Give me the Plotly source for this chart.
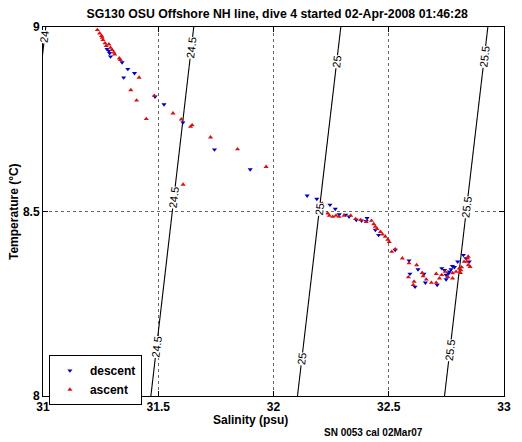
import plotly.graph_objects as go

# ---- data ----
desc_S = [31.278, 31.286, 31.289, 31.293, 31.343, 31.368, 31.397, 31.350, 31.486, 31.525,
          31.607, 31.744, 31.899, 32.146, 32.188, 32.221, 32.245, 32.268, 32.285, 32.313,
          32.328, 32.359, 32.382, 32.402, 32.406, 32.442, 32.456, 32.528, 32.588, 32.592,
          32.614, 32.627, 32.653, 32.659, 32.710, 32.730, 32.742, 32.749, 32.749, 32.763,
          32.770, 32.785, 32.799, 32.824, 32.835, 32.849, 32.759, 32.776]
desc_T = [8.940, 8.935, 8.929, 8.920, 8.904, 8.886, 8.875, 8.863, 8.811, 8.790,
          8.741, 8.668, 8.614, 8.543, 8.534, 8.516, 8.518, 8.507, 8.492, 8.491,
          8.486, 8.477, 8.475, 8.474, 8.482, 8.450, 8.436, 8.396, 8.367, 8.331,
          8.296, 8.343, 8.331, 8.307, 8.301, 8.346, 8.341, 8.328, 8.316, 8.337,
          8.343, 8.349, 8.364, 8.382, 8.373, 8.364, 8.332, 8.352]

asc_S = [31.236, 31.246, 31.254, 31.257, 31.260, 31.269, 31.274, 31.286, 31.293, 31.300,
         31.307, 31.311, 31.331, 31.336, 31.417, 31.381, 31.406, 31.483, 31.448, 31.564,
         31.600, 31.640, 31.647, 31.727, 31.844, 31.968, 31.608, 32.211, 32.235, 32.242,
         32.257, 32.271, 32.285, 32.306, 32.335, 32.356, 32.378, 32.402, 32.425, 32.435,
         32.442, 32.449, 32.464, 32.473, 32.485, 32.496, 32.502, 32.513, 32.528, 32.559,
         32.588, 32.621, 32.610, 32.585, 32.645, 32.649, 32.663, 32.685, 32.706, 32.706,
         32.720, 32.730, 32.745, 32.756, 32.777, 32.777, 32.792, 32.806, 32.811, 32.816,
         32.827, 32.839, 32.842, 32.845, 32.853, 32.845, 32.813, 32.606]
asc_T = [8.992, 8.983, 8.976, 8.971, 8.965, 8.956, 8.949, 8.953, 8.944, 8.938,
         8.931, 8.926, 8.915, 8.911, 8.863, 8.829, 8.801, 8.814, 8.751, 8.766,
         8.750, 8.730, 8.734, 8.701, 8.669, 8.621, 8.573, 8.522, 8.495, 8.489,
         8.486, 8.489, 8.486, 8.489, 8.489, 8.480, 8.477, 8.472, 8.475, 8.466,
         8.459, 8.453, 8.445, 8.438, 8.432, 8.424, 8.418, 8.391, 8.398, 8.373,
         8.360, 8.355, 8.310, 8.322, 8.334, 8.325, 8.316, 8.307, 8.307, 8.331,
         8.319, 8.328, 8.337, 8.323, 8.333, 8.319, 8.337, 8.346, 8.334, 8.349,
         8.364, 8.364, 8.373, 8.355, 8.350, 8.378, 8.341, 8.301]

# isopycnal (sigma-t) contour lines: salinity where each crosses T=8 and T=9
sigma_levels = ["24", "24.5", "25", "25.5"]
sigma_S_at_T8 = [30.825, 31.468, 32.104, 32.742]
sigma_S_at_T9 = [31.012, 31.654, 32.292, 32.930]
sigma_label_T = [[8.972], [8.943, 8.539, 8.133], [8.905, 8.507, 8.100], [8.919, 8.512, 8.125]]

x_ticks = [31, 31.5, 32, 32.5, 33]
x_tick_text = ["31", "31.5", "32", "32.5", "33"]
y_ticks = [8, 8.5, 9]
y_tick_text = ["8", "8.5", "9"]

FONT = "Liberation Sans, Arial, Helvetica, sans-serif"

fig = go.Figure()

annotations = []
for lev, s8, s9, labT in zip(sigma_levels, sigma_S_at_T8, sigma_S_at_T9, sigma_label_T):
    fig.add_trace(go.Scatter(x=[s8, s9], y=[8, 9], mode="lines",
                             line=dict(color="black", width=1.1),
                             showlegend=False, hoverinfo="skip"))
    for t in labT:
        s = s8 + (t - 8) * (s9 - s8)
        annotations.append(dict(x=s, y=t, xref="x", yref="y", text=lev, showarrow=False,
                                textangle=-83, bgcolor="white", borderpad=0,
                                font=dict(family=FONT, size=11, color="black")))

fig.add_trace(go.Scatter(x=desc_S, y=desc_T, mode="markers", name="descent",
                         marker=dict(symbol="triangle-down", size=4.5, color="#0000c0")))
fig.add_trace(go.Scatter(x=asc_S, y=asc_T, mode="markers", name="ascent",
                         marker=dict(symbol="triangle-up", size=4.5, color="#d81010")))

annotations += [
    dict(text="Salinity (psu)", xref="paper", yref="paper", x=0.451, y=-0.066,
         showarrow=False, xanchor="center", yanchor="middle",
         font=dict(family=FONT, size=12, color="black", weight="bold")),
    dict(text="Temperature (\u00b0C)", xref="paper", yref="paper", x=-0.064, y=0.5,
         showarrow=False, textangle=-90, xanchor="center", yanchor="middle",
         font=dict(family=FONT, size=12, color="black", weight="bold")),
    dict(text="SN 0053 cal 02Mar07", xref="paper", yref="paper", x=0.605, y=-0.0976,
         showarrow=False, xanchor="left", yanchor="middle",
         font=dict(family=FONT, size=10, color="black", weight="bold")),
]

axis_common = dict(showline=True, linecolor="black", linewidth=1, mirror="ticks",
                   ticks="inside", ticklen=5, tickcolor="black",
                   showgrid=True, gridcolor="#666666", griddash="dot", gridwidth=1,
                   zeroline=False,
                   tickfont=dict(family=FONT, size=12, color="black", weight="bold"))

# The page body has an 8px default margin, so the figure is 8px smaller and the
# top/left margins are reduced by 8px to keep the plot area where the reference has it.
fig.update_layout(
    width=514, height=434,
    margin=dict(l=35, r=11, t=19, b=46),
    paper_bgcolor="white", plot_bgcolor="white",
    title=dict(text="SG130 OSU Offshore NH line, dive 4 started 02-Apr-2008 01:46:28",
               x=0.508, xref="paper", y=1 - 6 / 434, yref="container", yanchor="middle",
               font=dict(family=FONT, size=12.3, color="black", weight="bold")),
    xaxis=dict(range=[31, 33], tickvals=x_ticks, ticktext=x_tick_text, **axis_common),
    yaxis=dict(range=[8, 9], tickvals=y_ticks, ticktext=y_tick_text, **axis_common),
    legend=dict(x=0.0128, y=0.111, xanchor="left", yanchor="top",
                bgcolor="white", bordercolor="black", borderwidth=1,
                font=dict(family=FONT, size=12, color="black", weight="bold"),
                itemwidth=30, tracegroupgap=0),
    annotations=annotations,
    showlegend=True,
)

fig.write_html("out.html")
